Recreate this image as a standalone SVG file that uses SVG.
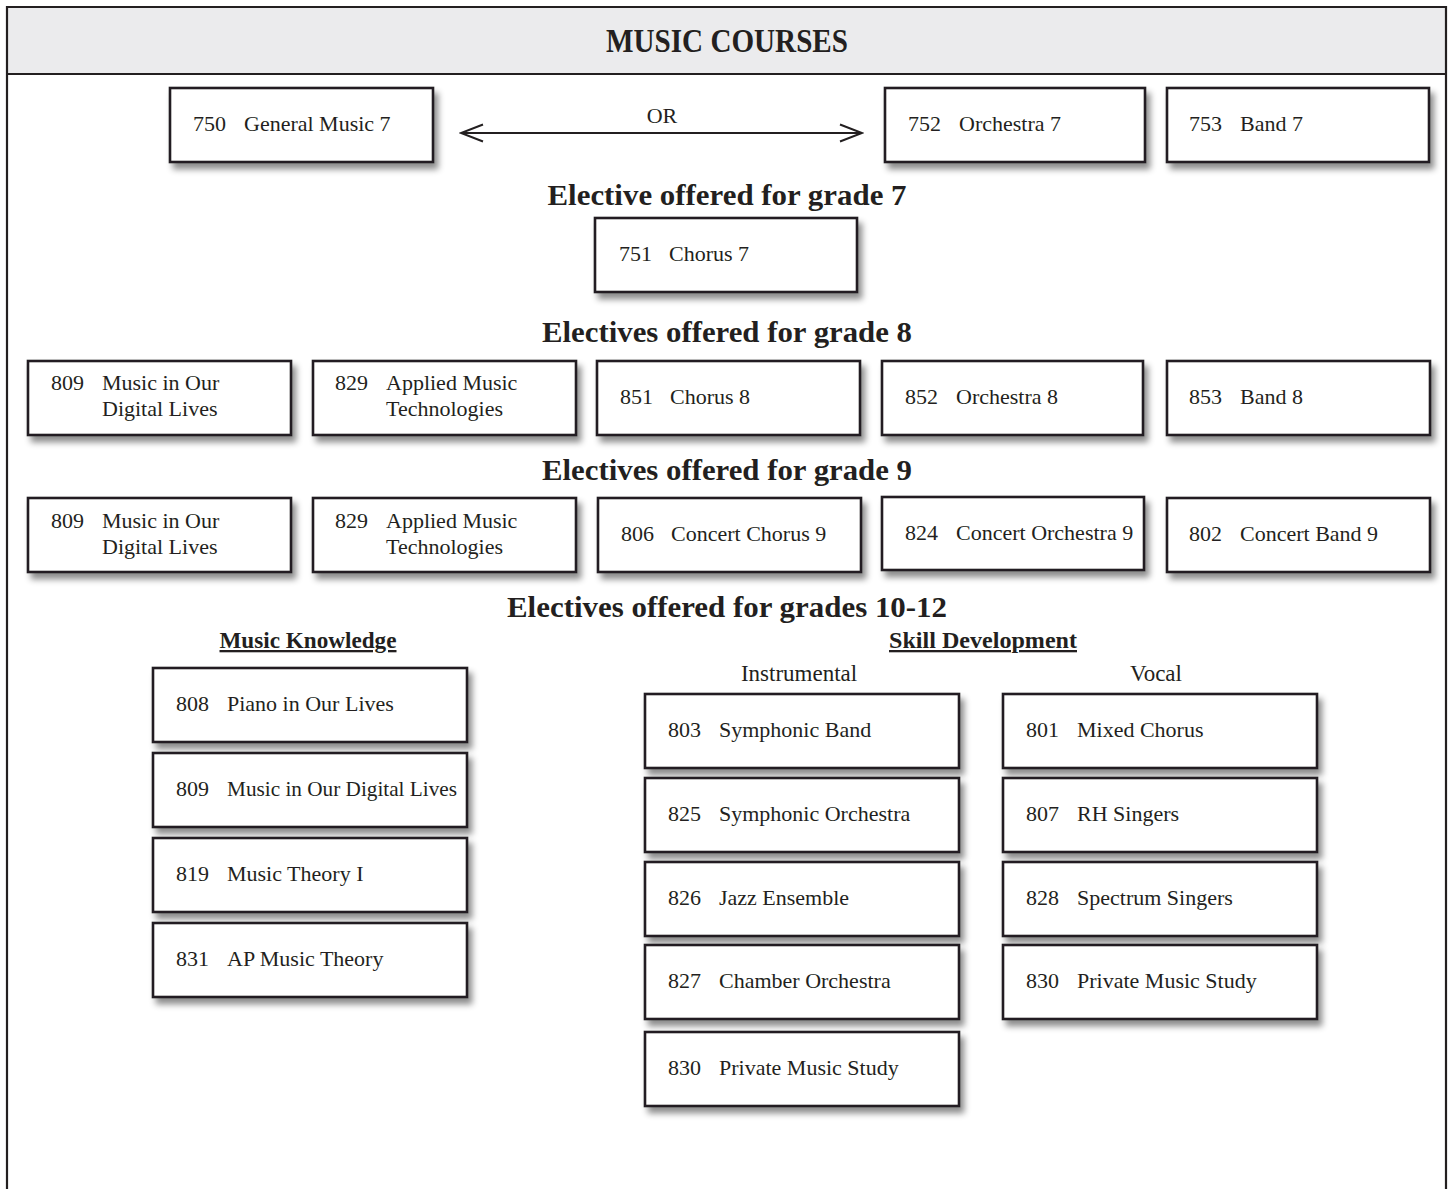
<svg xmlns="http://www.w3.org/2000/svg" width="1452" height="1189" viewBox="0 0 1452 1189">
<defs>
<filter id="sh" x="-10%" y="-20%" width="130%" height="160%">
<feDropShadow dx="4" dy="6" stdDeviation="3" flood-color="#000" flood-opacity="0.45"/>
</filter>
<marker id="chev" viewBox="-24 -11 26 22" refX="0" refY="0" markerWidth="26" markerHeight="22" markerUnits="userSpaceOnUse" orient="auto-start-reverse">
<path d="M -22 -8.5 L 0 0 L -22 8.5" fill="none" stroke="#231f20" stroke-width="2"/>
</marker>
<style>
.box{fill:#fff;stroke:#231f20;stroke-width:2.6;filter:url(#sh)}
.t{font-family:"Liberation Serif","Times New Roman",serif;font-size:22px;fill:#231f20}
.h{font-family:"Liberation Serif","Times New Roman",serif;font-size:30px;font-weight:bold;fill:#231f20;text-anchor:middle}
.s{font-family:"Liberation Serif","Times New Roman",serif;font-size:23px;font-weight:bold;fill:#231f20;text-anchor:middle;text-decoration:underline}
.c{font-family:"Liberation Serif","Times New Roman",serif;font-size:23px;fill:#231f20;text-anchor:middle}
.frame{fill:none;stroke:#231f20;stroke-width:2.2}
</style>
</defs>
<rect x="0" y="0" width="1452" height="1189" fill="#fff"/>
<g id="frame">
<rect x="7" y="7" width="1439" height="67" fill="#ebebed"/>
<path class="frame" d="M7 1189 V7 H1446 V1189 M7 74 H1446"/>
<text x="727" y="52" class="h" font-size="34" style="font-size:34px" textLength="242" lengthAdjust="spacingAndGlyphs">MUSIC COURSES</text>
</g>
<g id="headings">
<text x="727" y="205" class="h" textLength="359" lengthAdjust="spacingAndGlyphs">Elective offered for grade 7</text>
<text x="727" y="342" class="h" textLength="370" lengthAdjust="spacingAndGlyphs">Electives offered for grade 8</text>
<text x="727" y="480" class="h" textLength="370" lengthAdjust="spacingAndGlyphs">Electives offered for grade 9</text>
<text x="727" y="617" class="h" textLength="440" lengthAdjust="spacingAndGlyphs">Electives offered for grades 10-12</text>
<text x="308" y="648" class="s" textLength="177" lengthAdjust="spacingAndGlyphs">Music Knowledge</text>
<text x="983" y="648" class="s" textLength="188" lengthAdjust="spacingAndGlyphs">Skill Development</text>
<text x="799" y="681" class="c">Instrumental</text>
<text x="1156" y="681" class="c">Vocal</text>
</g>
<g id="connectors">
<line x1="461" y1="133" x2="862" y2="133" stroke="#231f20" stroke-width="2" marker-start="url(#chev)" marker-end="url(#chev)"/>
<text x="662" y="123" class="t" text-anchor="middle">OR</text>
</g>
<g id="n750"><rect class="box" x="170" y="88" width="263" height="74"/><text class="t" x="193" y="131">750</text><text class="t" x="244" y="131">General Music 7</text></g>
<g id="n752"><rect class="box" x="885" y="88" width="260" height="74"/><text class="t" x="908" y="131">752</text><text class="t" x="959" y="131">Orchestra 7</text></g>
<g id="n753"><rect class="box" x="1167" y="88" width="262" height="74"/><text class="t" x="1189" y="131">753</text><text class="t" x="1240" y="131">Band 7</text></g>
<g id="n751"><rect class="box" x="595" y="218" width="262" height="74"/><text class="t" x="619" y="261">751</text><text class="t" x="669" y="261">Chorus 7</text></g>

<g id="g8_809"><rect class="box" x="28" y="361" width="263" height="74"/><text class="t" x="51" y="390">809</text><text class="t" x="102" y="390">Music in Our</text><text class="t" x="102" y="416">Digital Lives</text></g>
<g id="g8_829"><rect class="box" x="313" y="361" width="263" height="74"/><text class="t" x="335" y="390">829</text><text class="t" x="386" y="390">Applied Music</text><text class="t" x="386" y="416">Technologies</text></g>
<g id="g8_851"><rect class="box" x="597" y="361" width="263" height="74"/><text class="t" x="620" y="404">851</text><text class="t" x="670" y="404">Chorus 8</text></g>
<g id="g8_852"><rect class="box" x="882" y="361" width="261" height="74"/><text class="t" x="905" y="404">852</text><text class="t" x="956" y="404">Orchestra 8</text></g>
<g id="g8_853"><rect class="box" x="1167" y="361" width="263" height="74"/><text class="t" x="1189" y="404">853</text><text class="t" x="1240" y="404">Band 8</text></g>

<g id="g9_809"><rect class="box" x="28" y="498" width="263" height="74"/><text class="t" x="51" y="528">809</text><text class="t" x="102" y="528">Music in Our</text><text class="t" x="102" y="554">Digital Lives</text></g>
<g id="g9_829"><rect class="box" x="313" y="498" width="263" height="74"/><text class="t" x="335" y="528">829</text><text class="t" x="386" y="528">Applied Music</text><text class="t" x="386" y="554">Technologies</text></g>
<g id="g9_806"><rect class="box" x="598" y="498" width="263" height="74"/><text class="t" x="621" y="541">806</text><text class="t" x="671" y="541">Concert Chorus 9</text></g>
<g id="g9_824"><rect class="box" x="882" y="497" width="262" height="73"/><text class="t" x="905" y="540">824</text><text class="t" x="956" y="540">Concert Orchestra 9</text></g>
<g id="g9_802"><rect class="box" x="1167" y="498" width="263" height="74"/><text class="t" x="1189" y="541">802</text><text class="t" x="1240" y="541">Concert Band 9</text></g>

<g id="k808"><rect class="box" x="153" y="668" width="314" height="74"/><text class="t" x="176" y="711">808</text><text class="t" x="227" y="711">Piano in Our Lives</text></g>
<g id="k809"><rect class="box" x="153" y="753" width="314" height="74"/><text class="t" x="176" y="796">809</text><text class="t" x="227" y="796" textLength="230" lengthAdjust="spacingAndGlyphs">Music in Our Digital Lives</text></g>
<g id="k819"><rect class="box" x="153" y="838" width="314" height="74"/><text class="t" x="176" y="881">819</text><text class="t" x="227" y="881">Music Theory I</text></g>
<g id="k831"><rect class="box" x="153" y="923" width="314" height="74"/><text class="t" x="176" y="966">831</text><text class="t" x="227" y="966">AP Music Theory</text></g>

<g id="i803"><rect class="box" x="645" y="694" width="314" height="74"/><text class="t" x="668" y="737">803</text><text class="t" x="719" y="737">Symphonic Band</text></g>
<g id="i825"><rect class="box" x="645" y="778" width="314" height="74"/><text class="t" x="668" y="821">825</text><text class="t" x="719" y="821">Symphonic Orchestra</text></g>
<g id="i826"><rect class="box" x="645" y="862" width="314" height="74"/><text class="t" x="668" y="905">826</text><text class="t" x="719" y="905">Jazz Ensemble</text></g>
<g id="i827"><rect class="box" x="645" y="945" width="314" height="74"/><text class="t" x="668" y="988">827</text><text class="t" x="719" y="988">Chamber Orchestra</text></g>
<g id="i830"><rect class="box" x="645" y="1032" width="314" height="74"/><text class="t" x="668" y="1075">830</text><text class="t" x="719" y="1075">Private Music Study</text></g>

<g id="v801"><rect class="box" x="1003" y="694" width="314" height="74"/><text class="t" x="1026" y="737">801</text><text class="t" x="1077" y="737">Mixed Chorus</text></g>
<g id="v807"><rect class="box" x="1003" y="778" width="314" height="74"/><text class="t" x="1026" y="821">807</text><text class="t" x="1077" y="821">RH Singers</text></g>
<g id="v828"><rect class="box" x="1003" y="862" width="314" height="74"/><text class="t" x="1026" y="905">828</text><text class="t" x="1077" y="905">Spectrum Singers</text></g>
<g id="v830"><rect class="box" x="1003" y="945" width="314" height="74"/><text class="t" x="1026" y="988">830</text><text class="t" x="1077" y="988">Private Music Study</text></g>
</svg>
